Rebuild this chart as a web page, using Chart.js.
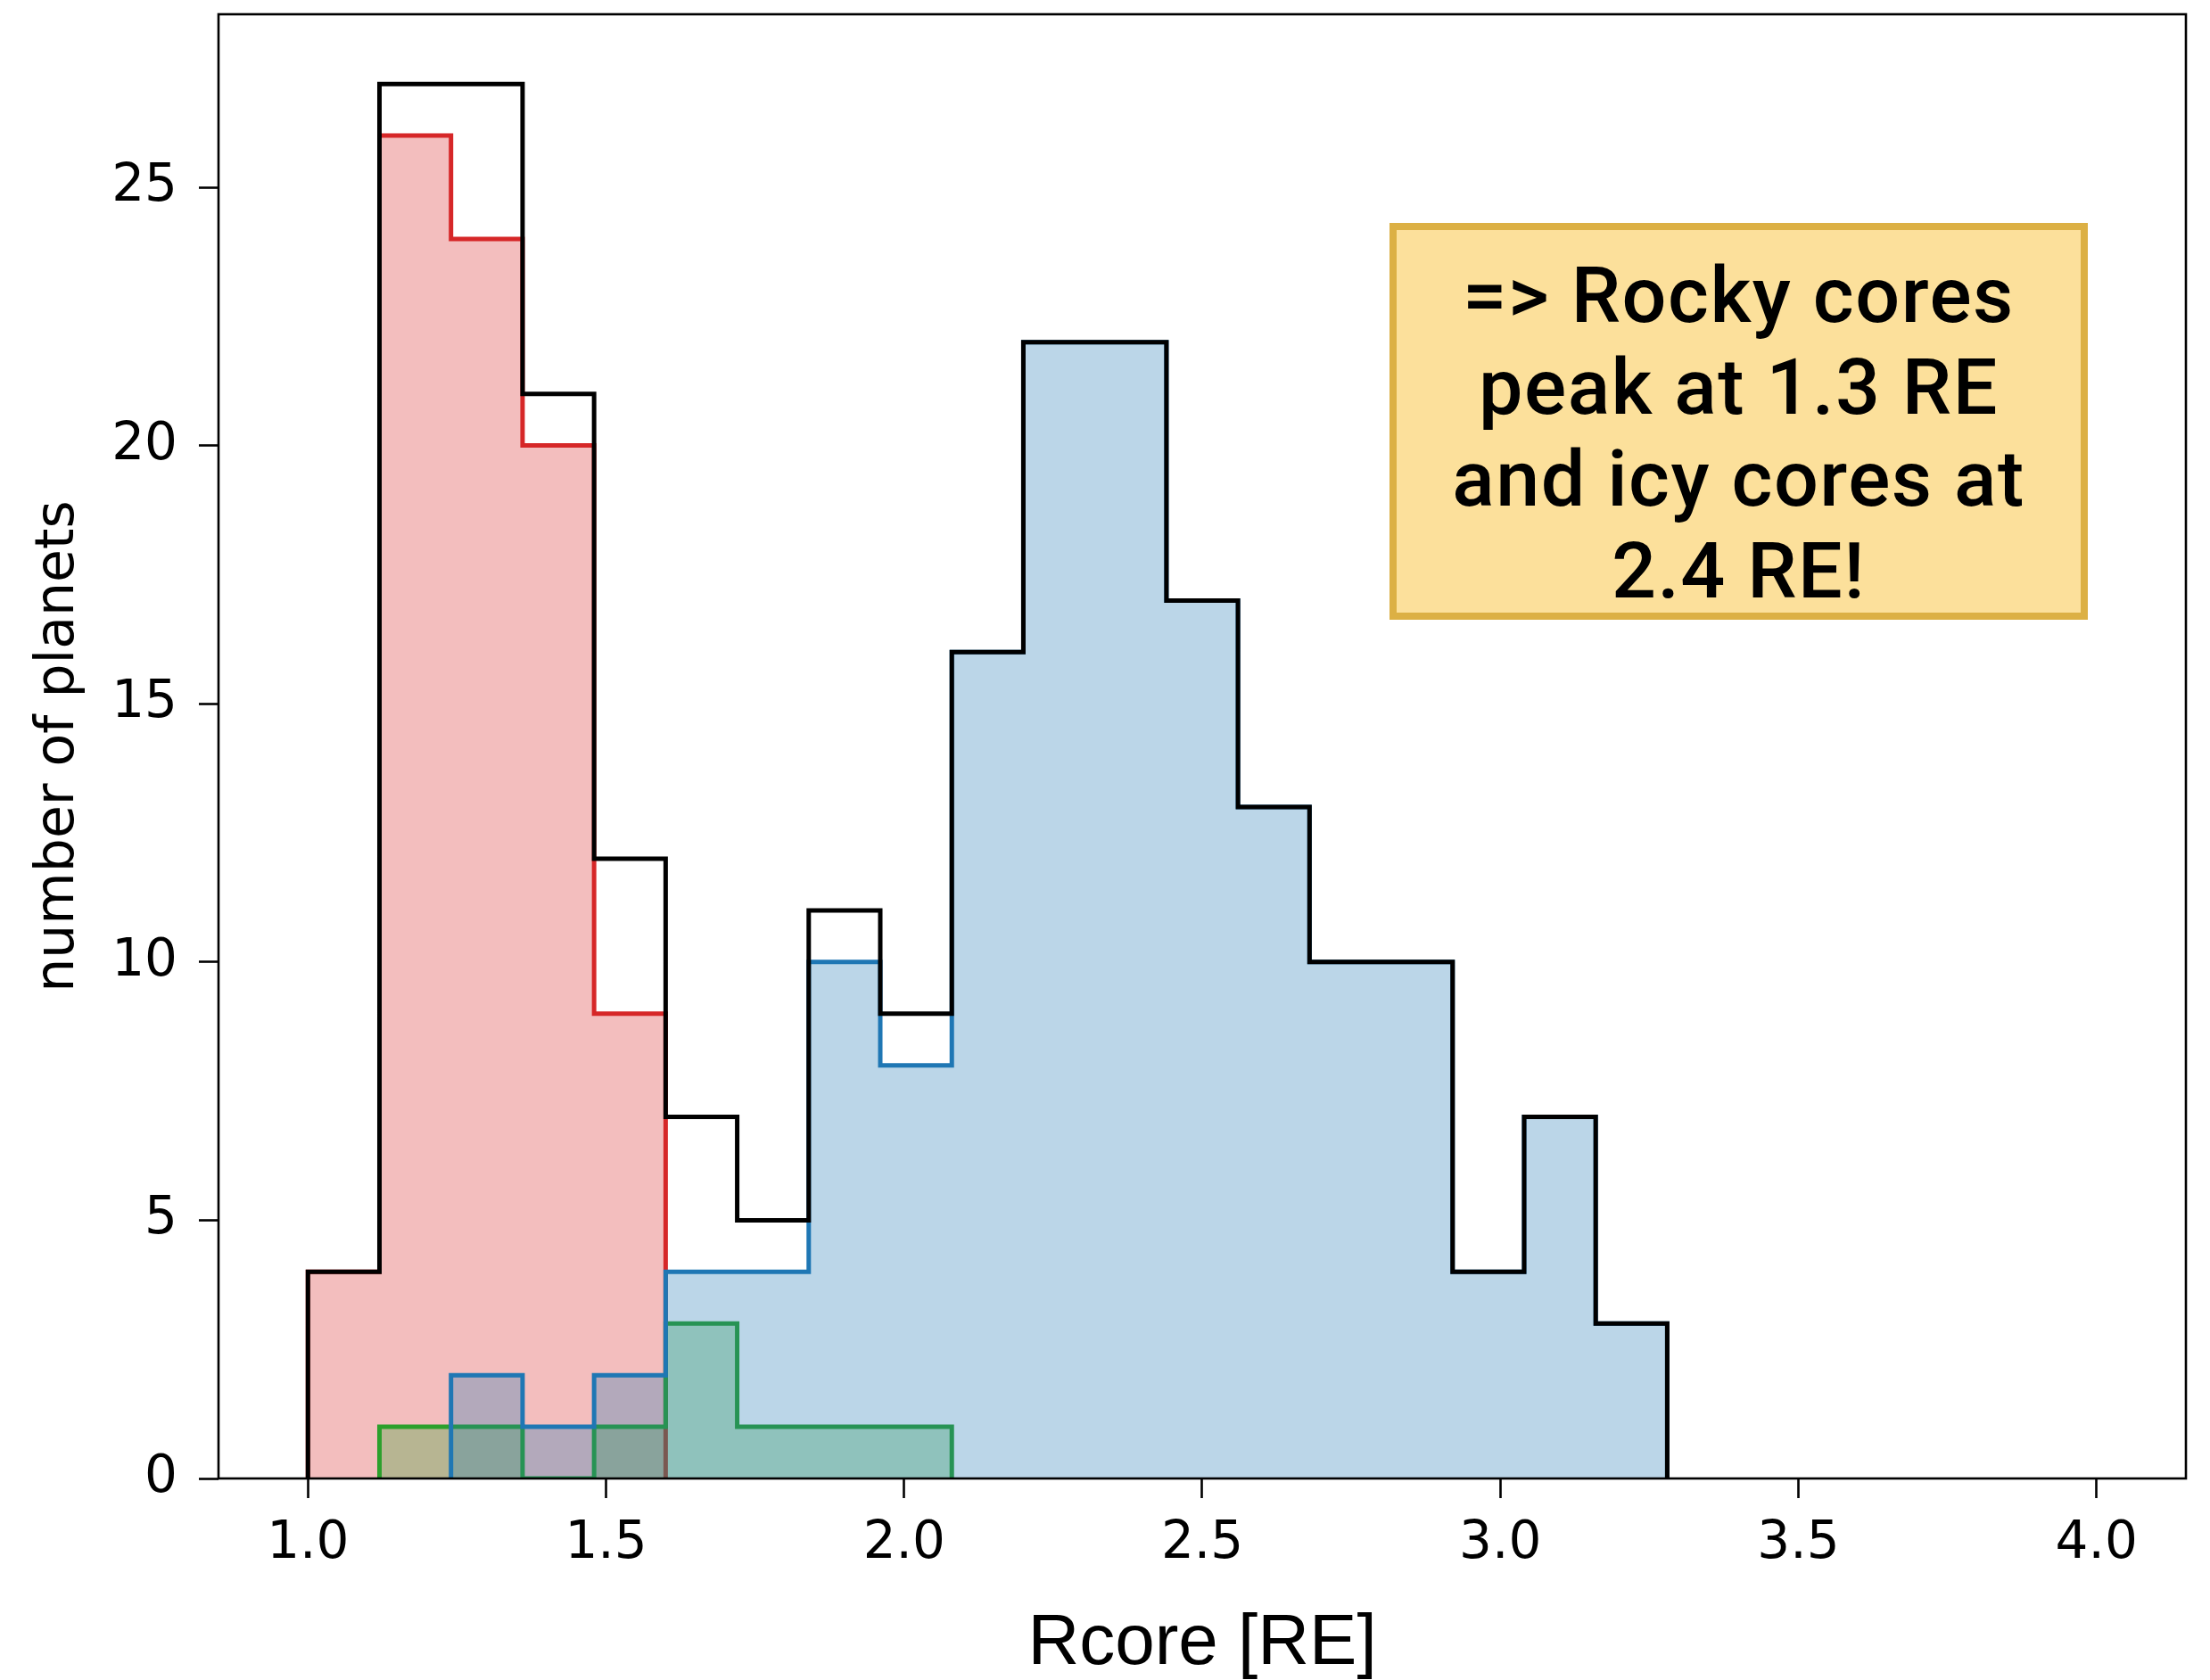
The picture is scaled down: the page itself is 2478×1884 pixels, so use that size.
<!DOCTYPE html>
<html><head><meta charset="utf-8">
<script src="https://cdn.jsdelivr.net/npm/chart.js@4.4.1/dist/chart.umd.min.js"></script>
<style>
html,body{margin:0;padding:0;background:#fff;}
#wrap{position:relative;width:2478px;height:1884px;}
#c{width:2478px;height:1884px;display:block;}
#note{position:absolute;left:1558px;top:250px;width:783px;height:445px;box-sizing:border-box;background:#FCE09B;border:8px solid #DCB044;display:flex;flex-direction:column;justify-content:center;align-items:center;font-family:Roboto,"Liberation Sans",Arial,sans-serif;font-weight:500;font-size:88px;letter-spacing:1.5px;line-height:103px;color:#000;text-align:center;padding-top:24px;white-space:nowrap;}
</style></head>
<body><div id="wrap"><canvas id="c" width="2478" height="1884"></canvas>
<div id="note"><div>=&gt; Rocky cores</div><div>peak at 1.3 RE</div><div>and icy cores at</div><div>2.4 RE!</div></div></div>
<script>
const binEdges = [1.00,1.12,1.24,1.36,1.48,1.60,1.72,1.84,1.96,2.08,2.20,2.32,2.44,2.56,2.68,2.80,2.92,3.04,3.16,3.28];
const allCounts   = [4,27,27,21,12,7,5,11,9,16,22,22,17,13,10,10,4,7,3];
const rockyCounts = [4,26,24,20,9,0,0,0,0,0,0,0,0,0,0,0,0,0,0];
const icyCounts   = [0,0,2,1,2,4,4,10,8,16,22,22,17,13,10,10,4,7,3];
const mixedCounts = [0,1,1,0,1,3,1,1,1,0,0,0,0,0,0,0,0,0,0];
const xTickValues = [1.0,1.5,2.0,2.5,3.0,3.5,4.0];
const yTickValues = [0,5,10,15,20,25];

function stepPoints(counts){
  const first = counts.findIndex(c => c > 0);
  let last = counts.length - 1;
  while (last >= 0 && counts[last] === 0) last--;
  const pts = [{x: binEdges[first], y: 0}];
  for (let i = first; i <= last; i++) pts.push({x: binEdges[i], y: counts[i]});
  pts.push({x: binEdges[last + 1], y: 0});
  return pts;
}

function ds(label, counts, line, fill){
  return {
    label, data: stepPoints(counts), stepped: 'before',
    borderColor: line, borderWidth: 5, backgroundColor: fill || 'transparent',
    fill: fill ? 'origin' : false, pointRadius: 0, pointHoverRadius: 0,
    borderJoinStyle: 'miter', borderCapStyle: 'butt', tension: 0
  };
}

const frame = {
  id: 'frame',
  afterDatasetsDraw(chart){
    const {ctx, chartArea: a} = chart;
    ctx.save();
    ctx.strokeStyle = '#000'; ctx.lineWidth = 2.6;
    ctx.strokeRect(a.left, a.top, a.right - a.left, a.bottom - a.top);
    ctx.restore();
  }
};

function noPad(s){ s.paddingTop = 0; s.paddingBottom = 0; s.paddingLeft = 0; s.paddingRight = 0; }

new Chart(document.getElementById('c'), {
  type: 'line',
  data: {
    datasets: [
      ds('all', allCounts, '#000000', null),
      ds('icy', icyCounts, '#1f77b4', 'rgba(31,119,180,0.3)'),
      ds('mixed', mixedCounts, '#2ca02c', 'rgba(44,160,44,0.3)'),
      ds('rocky', rockyCounts, '#d62728', 'rgba(214,39,40,0.3)')
    ]
  },
  options: {
    responsive: false, animation: false, devicePixelRatio: 1,
    layout: {padding: {top: 16, right: 27, left: 0, bottom: 0}},
    plugins: {legend: {display: false}, tooltip: {enabled: false}},
    scales: {
      x: {
        type: 'linear', min: 0.85, max: 4.15,
        afterFit(s){ s.height = 226; noPad(s); },
        afterBuildTicks(s){ s.ticks = xTickValues.map(v => ({value: v})); },
        ticks: {callback: v => Number(v).toFixed(1), font: {family: 'DejaVu Sans', size: 58}, color: '#000', padding: 17, maxRotation: 0, autoSkip: false},
        grid: {drawOnChartArea: false, drawTicks: true, tickLength: 22, tickWidth: 2.6, tickColor: '#000'},
        border: {display: false},
        title: {display: true, text: 'Rcore [RE]', font: {family: 'Liberation Sans', size: 80, lineHeight: 1}, color: '#000', padding: {top: 0, bottom: 0}}
      },
      y: {
        min: 0, max: 28.35,
        afterFit(s){ s.width = 245; noPad(s); },
        afterBuildTicks(s){ s.ticks = yTickValues.map(v => ({value: v})); },
        ticks: {font: {family: 'DejaVu Sans', size: 58}, color: '#000', padding: 24},
        grid: {drawOnChartArea: false, drawTicks: true, tickLength: 22, tickWidth: 2.6, tickColor: '#000'},
        border: {display: false},
        title: {display: true, text: 'number of planets', font: {family: 'DejaVu Sans', size: 60}, color: '#000', padding: 30}
      }
    }
  },
  plugins: [frame]
});
</script>
</body></html>
